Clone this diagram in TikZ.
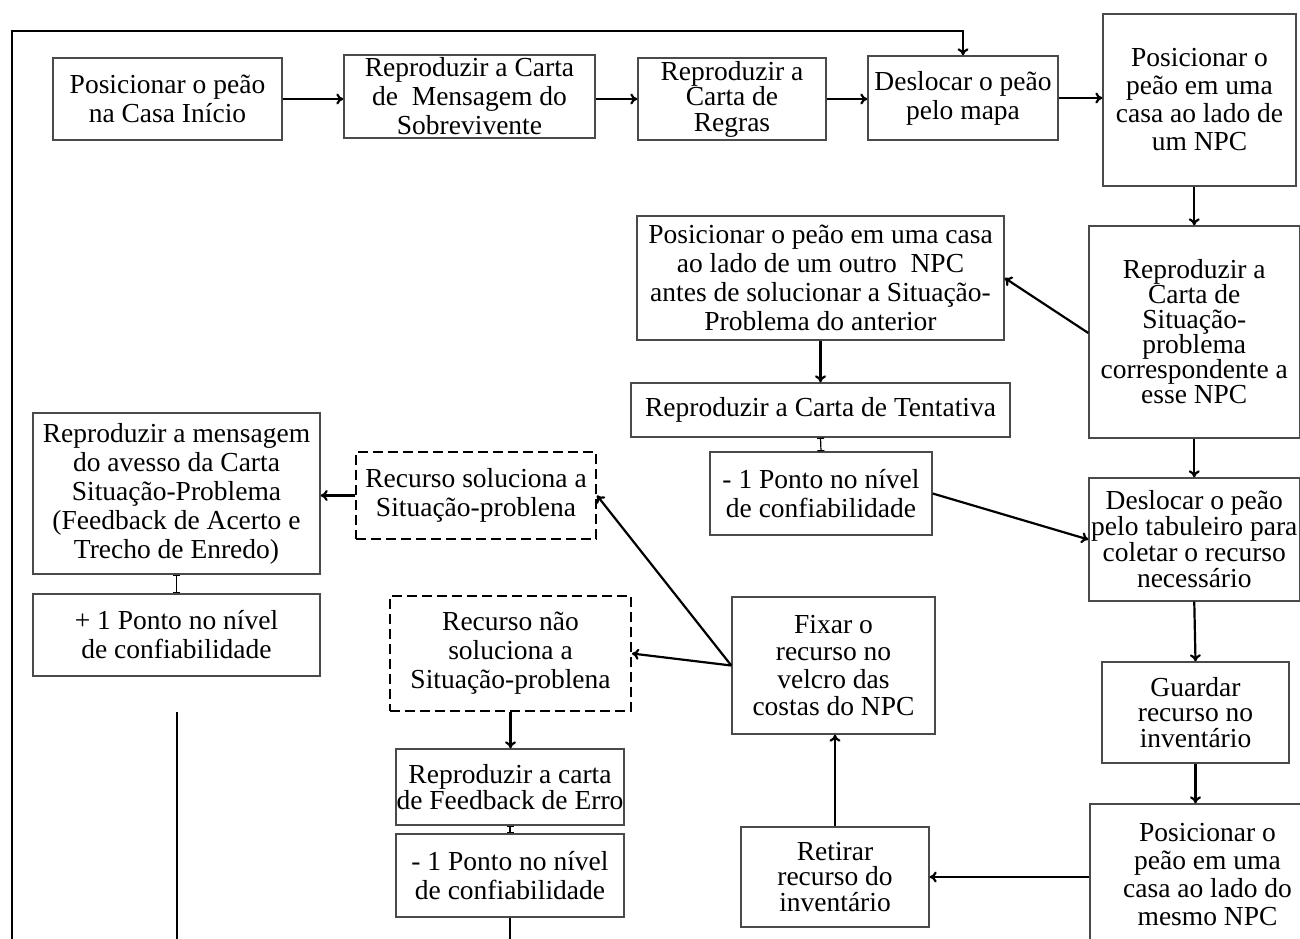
\documentclass[tikz,border=0pt]{standalone}
\usepackage{fontspec}
\setmainfont{Liberation Serif}
\usetikzlibrary{arrows.meta,calc}
\definecolor{boxgray}{HTML}{4A4A4A}
\begin{document}
\begin{tikzpicture}[x=1pt,y=-1pt,
  box/.style={draw=boxgray, line width=1.4pt, inner sep=0pt, align=center,
    font=\fontsize{27.5}{29}\selectfont, text=black},
  dbox/.style={box, draw=black, dash pattern=on 10pt off 5pt, line width=2pt},
  arr/.style={-{To[length=7pt,width=11pt]}, line width=2.2pt, black},
  tickln/.style={{Bar[width=7pt]}-{Bar[width=7pt]}, line width=1.2pt, black},
  plain/.style={line width=2.2pt, black}]
\useasboundingbox (0,0) rectangle (1300,938);
\clip (0,0) rectangle (1300,938);
\fill[white] (0,0) rectangle (1300,938);

% top row
\node[box, minimum width=229, minimum height=82] (b1) at (167.5,99) {Posicionar o peão\\na Casa Início};
\node[box, minimum width=251, minimum height=83] (b2) at (469.5,96.5) {Reproduzir a Carta\\de\ \ Mensagem do\\Sobrevivente};
\node[box, minimum width=188, minimum height=82, font=\fontsize{27.5}{25.5}\selectfont] (b3) at (732,99) {Reproduzir a\\Carta de\\Regras};
\node[box, minimum width=190, minimum height=84] (b4) at (963,98) {Deslocar o peão\\pelo mapa};
\node[box, minimum width=193, minimum height=172, font=\fontsize{27.5}{28}\selectfont] (b5) at (1199.5,100) {Posicionar o\\peão em uma\\casa ao lado de\\um NPC};

% right column
\node[box, minimum width=210.5, minimum height=212, font=\fontsize{27.5}{25}\selectfont] (b6) at (1194.25,332) {Reproduzir a\\Carta de\\Situação-\\problema\\correspondente a\\esse NPC};
\node[box, minimum width=210.5, minimum height=123, font=\fontsize{27.5}{26}\selectfont] (b10) at (1194.25,539.5) {Deslocar o peão\\pelo tabuleiro para\\coletar o recurso\\necessário};
\node[box, minimum width=187, minimum height=101, font=\fontsize{27.5}{25.5}\selectfont] (b11) at (1195.5,712.5) {Guardar\\recurso no\\inventário};
\node[box, minimum width=235, minimum height=142, font=\fontsize{27.5}{28}\selectfont] (b12) at (1207.5,875) {Posicionar o\\peão em uma\\casa ao lado do\\mesmo NPC};

% middle
\node[box, minimum width=367, minimum height=124] (b7) at (820.5,278) {Posicionar o peão em uma casa\\ao lado de um outro\ \ NPC\\antes de solucionar a Situação-\\Problema do anterior};
\node[box, minimum width=379, minimum height=54] (b8) at (820.5,410) {Reproduzir a Carta de Tentativa};
\node[box, minimum width=222, minimum height=83] (b9) at (821,493.5) {- 1 Ponto no nível\\de confiabilidade};
\node[box, minimum width=203, minimum height=137, font=\fontsize{27.5}{27.5}\selectfont] (b14) at (833.5,665.5) {Fixar o\\recurso no\\velcro das\\costas do NPC};
\node[box, minimum width=188, minimum height=100, font=\fontsize{27.5}{25.5}\selectfont] (b13) at (835,877) {Retirar\\recurso do\\inventário};

% left-middle
\node[dbox, minimum width=240, minimum height=87] (b15) at (476,495.5) {Recurso soluciona a\\Situação-problena};
\node[dbox, minimum width=241, minimum height=115] (b16) at (510.5,653.5) {Recurso não\\soluciona a\\Situação-problena};
\node[box, minimum width=228, minimum height=76, font=\fontsize{27.5}{25.5}\selectfont] (b19) at (510,787) {Reproduzir a carta\\de Feedback de Erro};
\node[box, minimum width=228, minimum height=83] (b20) at (510,875.5) {- 1 Ponto no nível\\de confiabilidade};

% left
\node[box, minimum width=287, minimum height=161] (b17) at (176.5,493.5) {Reproduzir a mensagem\\do avesso da Carta\\Situação-Problema\\(Feedback de Acerto e\\Trecho de Enredo)};
\node[box, minimum width=287, minimum height=82] (b18) at (176.5,635) {+ 1 Ponto no nível\\de confiabilidade};

% free coordinates
\coordinate (lb) at (12,945);
\coordinate (lt) at (12,31);
\coordinate (e20) at (510,945);
\coordinate (va) at (177,712);
\coordinate (vb) at (177,945);

% connectors
\draw[arr] (b1.east) -- (b2.west |- b1.east);
\draw[arr] (b2.east |- b3.west) -- (b3.west);
\draw[arr] (b3.east) -- (b4.west |- b3.east);
\draw[arr] (b4.east) -- (b5.west |- b4.east);
\draw[arr] (lb) -- (lt) -| (b4.north);
\draw[arr] (b6.north |- b5.south) -- (b6.north);
\draw[arr] ($(b6.west)+(0,1)$) -- (b7.east);
\draw[arr] (b7.south) -- (b8.north);
\draw[tickln] (b8.south) -- (b9.north);
\draw[arr] (b9.east) -- (b10.west);
\draw[arr] (b6.south) -- (b10.north);
\draw[arr] (b10.south) -- (b11.north);
\draw[arr] (b11.south) -- (b11.south |- b12.north);
\draw[arr] (b12.west |- b13.east) -- (b13.east);
\draw[arr] (b13.north) -- (b13.north |- b14.south);
\draw[arr] (b14.west) -- (b15.east);
\draw[arr] (b14.west) -- (b16.east);
\draw[arr] (b15.west) -- (b17.east |- b15.west);
\draw[tickln] (b17.south) -- (b18.north);
\draw[arr] (b16.south) -- (b16.south |- b19.north);
\draw[tickln] (b19.south) -- (b20.north);
\draw[plain] (b20.south) -- (e20);
\draw[plain] (va) -- (vb);
\end{tikzpicture}
\end{document}
